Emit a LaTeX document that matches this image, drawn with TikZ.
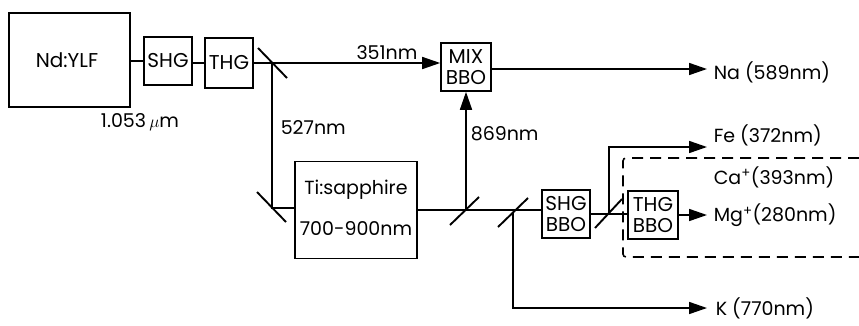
\documentclass[tikz,border=0pt]{standalone}
\usepackage{fontspec}
\setmainfont{Poppins}
\usetikzlibrary{arrows.meta,calc}
\begin{document}
\begin{tikzpicture}[x=1pt,y=-1pt,line width=1.6pt,
  box/.style={draw,rectangle,inner sep=0pt},
  lbl/.style={font=\fontsize{19}{20}\selectfont,inner sep=0pt},
  boxtxt/.style={font=\fontsize{20}{21}\selectfont,align=center,inner sep=0pt},
  arr/.style={-{Triangle[length=18pt,width=12pt]}},
  mirror/.style={line width=1.9pt}]
\useasboundingbox (0,0) rectangle (859,325);
% boxes
\node[box,minimum width=121pt,minimum height=94pt] (nd) at (69.5,60) {};
\node[lbl,font=\fontsize{20}{21}\selectfont] at (67,60) {Nd:YLF};
\node[box,minimum width=48pt,minimum height=48pt,boxtxt] (shg1) at (168,61) {SHG};
\node[box,minimum width=48pt,minimum height=50pt,boxtxt] (thg1) at (229,63) {THG};
\node[box,minimum width=50pt,minimum height=48pt,boxtxt] (mix) at (466,67) {MIX\\BBO};
\node[box,minimum width=122pt,minimum height=97pt] (ti) at (356,210) {};
\node[lbl] (tit) at (356,190) {Ti:sapphire};
\node[lbl] (tib) at (356,229) {700-900nm};
\node[box,minimum width=48pt,minimum height=48pt,boxtxt] (shg2) at (566,214) {SHG\\BBO};
\node[box,minimum width=50pt,minimum height=48pt,boxtxt] (thg2) at (653,215) {THG\\BBO};
% mirrors
\coordinate (m1) at (272,63);
\coordinate (m2) at (272,208);
\coordinate (m3) at (466,210);
\coordinate (m4) at (513,212);
\coordinate (m5) at (609,214);
\draw[mirror] ($(m1)+(-14,-15)$) -- ($(m1)+(15,15)$);
\draw[mirror] ($(m2)+(-15,-16)$) -- ($(m2)+(14,14)$);
\draw[mirror] ($(m3)+(-16,15)$) -- ($(m3)+(13,-13)$);
\draw[mirror] ($(m4)+(-15,15)$) -- ($(m4)+(15,-14)$);
\draw[mirror] ($(m5)+(-14,14)$) -- ($(m5)+(13,-15)$);
% end points
\coordinate (na) at (707,69);
\coordinate (fe) at (707,147);
\coordinate (mg) at (707,215);
\coordinate (k) at (707,308);
% connections
\draw (nd.east |- shg1) -- (shg1.west);
\draw (shg1.east |- thg1) -- (thg1.west);
\draw (thg1.east) -- (m1);
\draw[arr] (m1) -- (mix.west |- m1);
\draw (m1) -- (m2) -- (ti.west |- m2);
\draw[arr] (mix.east |- na) -- (na);
\draw (ti.east |- m3) -- (m3);
\draw[arr] (m3) -- (mix.south);
\draw (m3) -- (shg2.west |- m3);
\draw[arr] (m4) |- (k);
\draw (shg2.east |- m5) -- (thg2.west |- m5);
\draw[arr] (m5) |- (fe);
\draw[arr] (thg2.east) -- (mg);
% dashed region
\draw[dash pattern=on 11pt off 7pt,rounded corners=3pt] (859,158) -- (623,158) -- (623,257) -- (859,257);
% labels
\node[lbl] at (140,122) {1.053\,$\mu$m};
\node[lbl] at (387,53) {351nm};
\node[lbl,anchor=west] at (280,128) {527nm};
\node[lbl,anchor=west] at (470,134) {869nm};
\node[lbl,anchor=west] at (713,72) {Na (589nm)};
\node[lbl,anchor=west] at (713,135) {Fe (372nm)};
\node[lbl,anchor=west] at (713,177) {Ca\textsuperscript{+}(393nm)};
\node[lbl,anchor=west] at (713,215) {Mg\textsuperscript{+}(280nm)};
\node[lbl,anchor=west] at (715,308) {K (770nm)};
\end{tikzpicture}
\end{document}
